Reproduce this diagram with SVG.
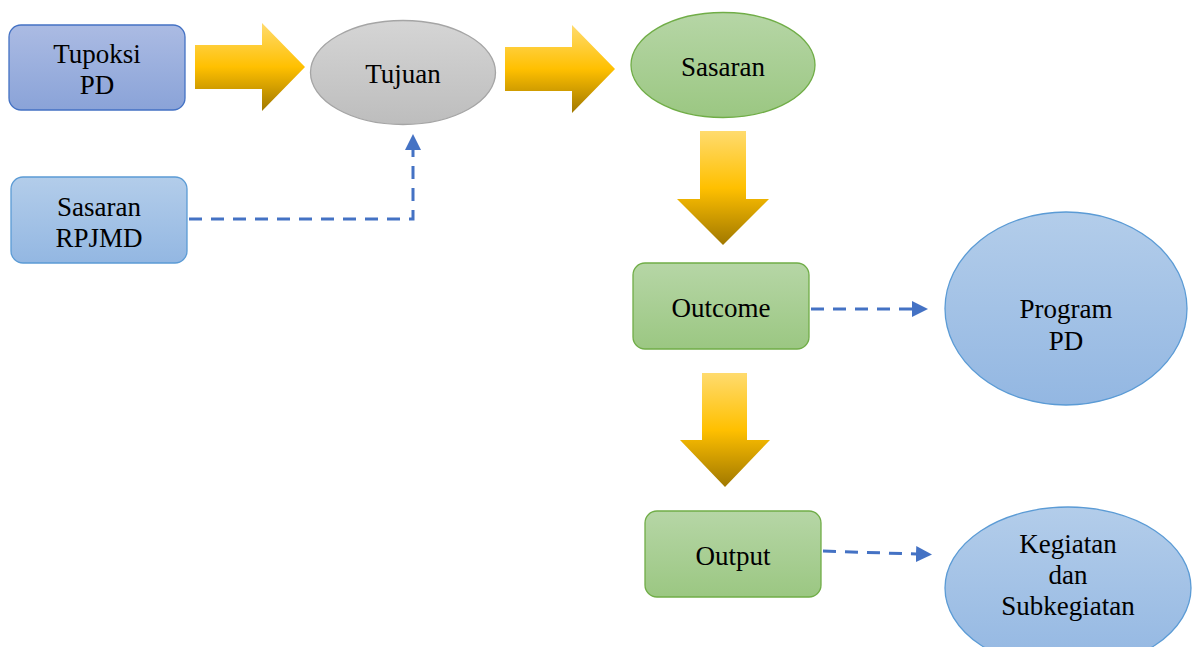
<svg xmlns="http://www.w3.org/2000/svg" width="1195" height="647" viewBox="0 0 1195 647">
<defs>
<linearGradient id="gBlue" x1="0" y1="0" x2="0" y2="1"><stop offset="0" stop-color="#abbbe3"/><stop offset="1" stop-color="#8aa3d8"/></linearGradient>
<linearGradient id="gLBlue" x1="0" y1="0" x2="0" y2="1"><stop offset="0" stop-color="#b3cdea"/><stop offset="1" stop-color="#93b7e2"/></linearGradient>
<linearGradient id="gGray" x1="0" y1="0" x2="0" y2="1"><stop offset="0" stop-color="#d5d5d5"/><stop offset="1" stop-color="#bdbdbd"/></linearGradient>
<linearGradient id="gGreen" x1="0" y1="0" x2="0" y2="1"><stop offset="0" stop-color="#b6d6a6"/><stop offset="1" stop-color="#9bc782"/></linearGradient>
<linearGradient id="gGold" x1="0" y1="0" x2="0" y2="1"><stop offset="0" stop-color="#ffdb6e"/><stop offset="0.5" stop-color="#ffc000"/><stop offset="1" stop-color="#a07800"/></linearGradient>
<marker id="ah" markerUnits="userSpaceOnUse" viewBox="0 0 16 16" markerWidth="16" markerHeight="16" refX="0" refY="8" orient="auto"><path d="M0,0 L16,8 L0,16 z" fill="#4472c4"/></marker>
<style>
.t{font-family:"Liberation Serif","Times New Roman",serif;font-size:27px;fill:#000;text-anchor:middle}
.blue{fill:url(#gBlue);stroke:#4472c4;stroke-width:1.3}
.lblue{fill:url(#gLBlue);stroke:#5b9bd5;stroke-width:1.3}
.gray{fill:url(#gGray);stroke:#a5a5a5;stroke-width:1.3}
.green{fill:url(#gGreen);stroke:#70ad47;stroke-width:1.3}
.gold{fill:url(#gGold)}
.dash{fill:none;stroke:#4472c4;stroke-width:3;stroke-dasharray:13,9;marker-end:url(#ah)}
</style>
</defs>
<rect width="1195" height="647" fill="#fff"/>
<g id="connectors">
<polygon class="gold" points="195,45 262,45 262,23 305,67 262,111 262,89 195,89"/>
<polygon class="gold" points="505,47 572,47 572,25 615,69 572,113 572,91 505,91"/>
<polygon class="gold" points="700,131 746,131 746,199 769,199 723,245 677,199 700,199"/>
<polygon class="gold" points="702,373 747,373 747,440 770,440 725,487 680,440 702,440"/>
<path class="dash" d="M189,219 H413 V150"/>
<path class="dash" d="M811,309 H912"/>
<path class="dash" d="M823,551 L916,554"/>
</g>
<g id="tupoksi"><rect class="blue" x="9" y="25" width="176" height="85" rx="12"/><text class="t" x="97" y="63">Tupoksi</text><text class="t" x="97" y="94">PD</text></g>
<g id="sasaran-rpjmd"><rect class="lblue" x="11" y="177" width="176" height="86" rx="12"/><text class="t" x="99" y="216">Sasaran</text><text class="t" x="99" y="247">RPJMD</text></g>
<g id="tujuan"><ellipse class="gray" cx="403" cy="72.5" rx="92.5" ry="52"/><text class="t" x="403" y="83">Tujuan</text></g>
<g id="sasaran"><ellipse class="green" cx="723" cy="65" rx="92" ry="52.5"/><text class="t" x="723" y="76">Sasaran</text></g>
<g id="outcome"><rect class="green" x="633" y="263" width="176" height="86" rx="12"/><text class="t" x="721" y="317">Outcome</text></g>
<g id="program-pd"><ellipse class="lblue" cx="1066" cy="308.5" rx="121" ry="96.5"/><text class="t" x="1066" y="318">Program</text><text class="t" x="1066" y="350">PD</text></g>
<g id="output"><rect class="green" x="645" y="511" width="176" height="86" rx="12"/><text class="t" x="733" y="565">Output</text></g>
<g id="kegiatan"><ellipse class="lblue" cx="1068" cy="588" rx="123" ry="81"/><text class="t" x="1068" y="553">Kegiatan</text><text class="t" x="1068" y="584">dan</text><text class="t" x="1068" y="615">Subkegiatan</text></g>
</svg>
